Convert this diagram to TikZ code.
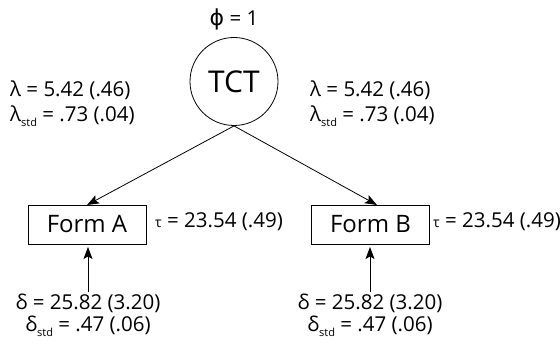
\documentclass[tikz,border=0pt]{standalone}
\usepackage{fontspec}
\setmainfont{Open Sans}
\newfontfamily\gr{DejaVu Sans}
\usetikzlibrary{arrows.meta}
\newcommand{\sstd}{\raisebox{-5pt}{\fontsize{11}{11}\selectfont std}}
\tikzset{
  lbl/.style={inner sep=0pt, font=\fontsize{20.5}{23}\selectfont},
  formbox/.style={draw, line width=0.8pt, minimum width=118pt, minimum height=39pt, inner sep=0pt, font=\fontsize{24}{26}\selectfont},
  conn/.style={line width=0.8pt, -{Stealth[length=12pt,width=9pt,inset=2.5pt]}}
}
\begin{document}
\begin{tikzpicture}[x=1pt,y=-1pt]
\useasboundingbox (0,0) rectangle (560,350);
\node[circle, draw, line width=0.8pt, minimum size=88pt, inner sep=0pt, font=\fontsize{30}{32}\selectfont] (tct) at (234,81.5) {TCT};
\node[lbl] (phi) at (234,19) {{\gr\fontsize{22}{24}\selectfont ϕ} = 1};
\node[lbl, anchor=west] (l1a) at (10,90) {λ = 5.42 (.46)};
\node[lbl, anchor=west] (l2a) at (10,116) {λ\sstd\ = .73 (.04)};
\node[lbl, anchor=west] (l1b) at (310,90) {λ = 5.42 (.46)};
\node[lbl, anchor=west] (l2b) at (310,116) {λ\sstd\ = .73 (.04)};
\node[formbox] (fa) at (87,224.5) {Form A};
\node[formbox] (fb) at (370.5,224.5) {Form B};
\node[lbl, anchor=west] (ta) at (155,222) {{\fontsize{14}{14}\selectfont τ} = 23.54 (.49)};
\node[lbl, anchor=west] (tb) at (433,222) {{\fontsize{14}{14}\selectfont τ} = 23.54 (.49)};
\node[lbl] (da) at (88,303) {δ = 25.82 (3.20)};
\node[lbl] (dsa) at (88,326) {δ\sstd\ = .47 (.06)};
\node[lbl] (db) at (370,303) {δ = 25.82 (3.20)};
\node[lbl] (dsb) at (370,326) {δ\sstd\ = .47 (.06)};
\coordinate (ea) at (87,205);
\coordinate (eb) at (377,205);
\coordinate (sa) at (88,292);
\coordinate (sb) at (370,292);
\coordinate (ua) at (88,247);
\coordinate (ub) at (370,247);
\draw[conn] (tct.south) -- (ea);
\draw[conn] (tct.south) -- (eb);
\draw[conn] (sa) -- (ua);
\draw[conn] (sb) -- (ub);
\end{tikzpicture}
\end{document}
